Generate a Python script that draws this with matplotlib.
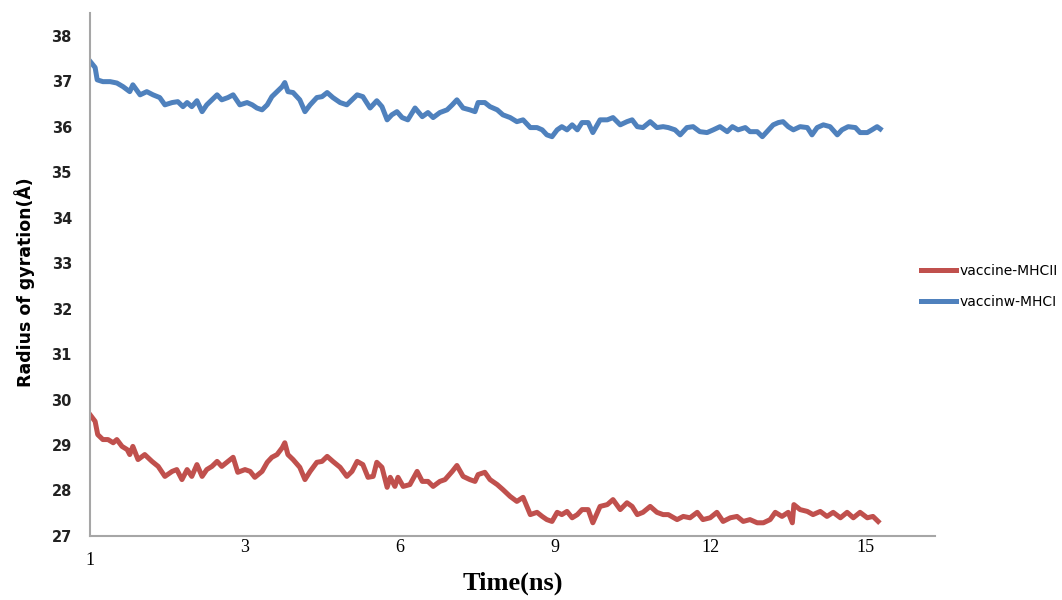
import matplotlib
matplotlib.use("Agg")
import matplotlib.pyplot as plt

t_mhc1 = [0.00, 0.10, 0.14, 0.25, 0.39, 0.52, 0.64, 0.77, 0.83, 0.97, 1.10, 1.22, 1.35, 1.45,
          1.59, 1.70, 1.80, 1.88, 1.97, 2.07, 2.17, 2.26, 2.36, 2.46, 2.55, 2.67, 2.77, 2.90,
          3.04, 3.14, 3.23, 3.33, 3.43, 3.52, 3.62, 3.72, 3.77, 3.83, 3.93, 4.06, 4.16, 4.26,
          4.39, 4.49, 4.59, 4.70, 4.84, 4.97, 5.07, 5.17, 5.28, 5.42, 5.55, 5.65, 5.75, 5.84,
          5.94, 6.04, 6.15, 6.29, 6.43, 6.54, 6.64, 6.77, 6.91, 7.01, 7.10, 7.22, 7.35, 7.45,
          7.51, 7.64, 7.74, 7.88, 7.99, 8.13, 8.26, 8.38, 8.52, 8.65, 8.75, 8.84, 8.94, 9.04,
          9.13, 9.23, 9.33, 9.43, 9.52, 9.64, 9.73, 9.87, 10.01, 10.12, 10.26, 10.39, 10.49,
          10.59, 10.70, 10.84, 10.97, 11.09, 11.19, 11.32, 11.42, 11.55, 11.67, 11.80, 11.94,
          12.06, 12.19, 12.33, 12.43, 12.54, 12.68, 12.77, 12.91, 13.01, 13.10, 13.22, 13.32,
          13.41, 13.51, 13.61, 13.74, 13.88, 13.97, 14.07, 14.19, 14.32, 14.46, 14.55, 14.67,
          14.81, 14.90, 15.04, 15.13, 15.23, 15.29]
rg_mhc1 = [37.44, 37.30, 37.03, 36.99, 36.99, 36.96, 36.88, 36.77, 36.92, 36.70, 36.77, 36.70,
           36.64, 36.48, 36.53, 36.55, 36.44, 36.53, 36.44, 36.57, 36.33, 36.48, 36.59, 36.70,
           36.59, 36.64, 36.70, 36.48, 36.53, 36.48, 36.41, 36.37, 36.48, 36.66, 36.77, 36.88,
           36.97, 36.77, 36.75, 36.59, 36.33, 36.48, 36.64, 36.66, 36.75, 36.64, 36.53, 36.48,
           36.59, 36.70, 36.66, 36.41, 36.57, 36.44, 36.15, 36.26, 36.33, 36.20, 36.15, 36.41,
           36.22, 36.31, 36.20, 36.31, 36.37, 36.48, 36.59, 36.41, 36.37, 36.33, 36.53, 36.53,
           36.44, 36.37, 36.26, 36.20, 36.11, 36.15, 35.98, 35.98, 35.93, 35.82, 35.78, 35.93,
           36.00, 35.93, 36.04, 35.93, 36.09, 36.09, 35.87, 36.15, 36.15, 36.20, 36.04, 36.11,
           36.15, 36.00, 35.98, 36.11, 35.98, 36.00, 35.98, 35.93, 35.82, 35.98, 36.00, 35.89,
           35.87, 35.93, 36.00, 35.89, 36.00, 35.93, 35.98, 35.89, 35.89, 35.78, 35.89, 36.04,
           36.09, 36.11, 36.00, 35.93, 36.00, 35.98, 35.82, 35.98, 36.04, 36.00, 35.82, 35.93,
           36.00, 35.98, 35.87, 35.87, 35.93, 36.00, 35.95]

t_mhc2 = [0.00, 0.10, 0.15, 0.25, 0.35, 0.45, 0.52, 0.62, 0.72, 0.77, 0.83, 0.93, 1.06, 1.20,
          1.32, 1.45, 1.59, 1.68, 1.78, 1.88, 1.97, 2.07, 2.17, 2.26, 2.36, 2.46, 2.55, 2.65,
          2.77, 2.86, 3.00, 3.10, 3.19, 3.33, 3.43, 3.52, 3.62, 3.72, 3.77, 3.83, 3.93, 4.06,
          4.16, 4.26, 4.39, 4.49, 4.59, 4.70, 4.84, 4.97, 5.07, 5.17, 5.28, 5.38, 5.48, 5.55,
          5.65, 5.75, 5.81, 5.90, 5.96, 6.06, 6.19, 6.33, 6.43, 6.54, 6.64, 6.77, 6.87, 7.01,
          7.10, 7.22, 7.35, 7.45, 7.51, 7.64, 7.74, 7.88, 7.99, 8.13, 8.26, 8.38, 8.52, 8.65,
          8.75, 8.84, 8.94, 9.04, 9.13, 9.23, 9.33, 9.43, 9.52, 9.64, 9.73, 9.87, 10.01, 10.12,
          10.26, 10.39, 10.49, 10.59, 10.70, 10.84, 10.97, 11.09, 11.19, 11.36, 11.48, 11.61,
          11.75, 11.86, 12.00, 12.13, 12.25, 12.39, 12.52, 12.64, 12.77, 12.91, 13.03, 13.16,
          13.26, 13.39, 13.51, 13.59, 13.62, 13.74, 13.88, 13.99, 14.13, 14.26, 14.38, 14.52,
          14.65, 14.77, 14.90, 15.04, 15.15, 15.25]
rg_mhc2 = [29.67, 29.52, 29.23, 29.12, 29.12, 29.05, 29.12, 28.97, 28.90, 28.79, 28.97, 28.68,
           28.79, 28.64, 28.53, 28.31, 28.42, 28.46, 28.24, 28.46, 28.31, 28.57, 28.31, 28.46,
           28.53, 28.64, 28.53, 28.62, 28.73, 28.40, 28.46, 28.42, 28.29, 28.42, 28.62, 28.73,
           28.79, 28.94, 29.05, 28.79, 28.68, 28.51, 28.24, 28.42, 28.62, 28.64, 28.75, 28.64,
           28.51, 28.31, 28.42, 28.64, 28.57, 28.29, 28.31, 28.62, 28.51, 28.07, 28.29, 28.09,
           28.29, 28.09, 28.13, 28.42, 28.20, 28.20, 28.09, 28.20, 28.24, 28.42, 28.55, 28.31,
           28.24, 28.20, 28.35, 28.40, 28.24, 28.13, 28.02, 27.87, 27.76, 27.85, 27.47, 27.52,
           27.43, 27.36, 27.32, 27.52, 27.47, 27.54, 27.40, 27.47, 27.58, 27.58, 27.29, 27.65,
           27.69, 27.80, 27.58, 27.73, 27.65, 27.47, 27.52, 27.65, 27.52, 27.47, 27.47, 27.36,
           27.43, 27.40, 27.52, 27.36, 27.40, 27.52, 27.32, 27.40, 27.43, 27.32, 27.36, 27.29,
           27.29, 27.36, 27.52, 27.43, 27.52, 27.29, 27.69, 27.58, 27.54, 27.47, 27.54, 27.43,
           27.52, 27.40, 27.52, 27.40, 27.52, 27.40, 27.43, 27.32]

tick_pos = [0, 3, 6, 9, 12, 15]
tick_labels = ['1', '3', '6', '9', '12', '15']
y_ticks = list(range(27, 39))

fig = plt.figure(figsize=(10.62, 6), dpi=100)
ax = fig.add_axes([0.0847, 0.1067, 0.7957, 0.8717])

ax.plot(t_mhc2, rg_mhc2, color='#C0504D', lw=3.6, label='vaccine-MHCII', solid_joinstyle='round')
ax.plot(t_mhc1, rg_mhc1, color='#4F81BD', lw=3.6, label='vaccinw-MHCI', solid_joinstyle='round')

ax.set_xlim(0, 16.35)
ax.set_ylim(27, 38.5)
ax.set_yticks(y_ticks)
ax.set_yticklabels([str(v) for v in y_ticks], fontsize=10.5, fontweight='bold', color='#222222')
ax.set_xticks(tick_pos)
ax.set_xticklabels(tick_labels, family='Liberation Serif', fontsize=13)
ax.tick_params(axis='y', length=0, pad=13)
ax.tick_params(axis='x', length=0, pad=2)
# first label sits lower in the original
ax.get_xticklabels()[0].set_y(-0.025)

for s in ['top', 'right']:
    ax.spines[s].set_visible(False)
for s in ['left', 'bottom']:
    ax.spines[s].set_color('#a6a6a6')
    ax.spines[s].set_linewidth(1.5)

ax.set_xlabel('Time(ns)', family='Liberation Serif', fontsize=19, fontweight='bold')
ax.xaxis.set_label_coords(0.5, -0.068)
ax.set_ylabel('Radius of gyration(Å)', fontsize=12.5, fontweight='bold')
ax.yaxis.set_label_coords(-0.065, 0.486)

fig.legend(loc='center left', bbox_to_anchor=(0.862, 0.523), frameon=False, fontsize=10,
           handlelength=2.5, handletextpad=0.3, labelspacing=1.2, borderaxespad=0)

fig.savefig('out.png', dpi=100)
